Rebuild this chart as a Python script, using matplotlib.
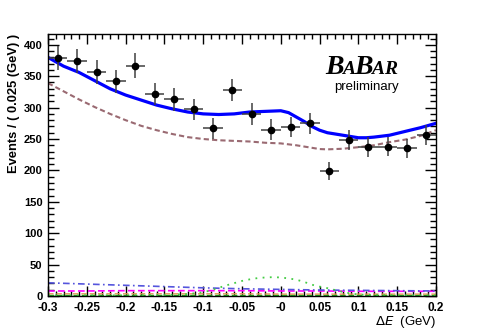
import matplotlib
matplotlib.use("Agg")
import matplotlib.pyplot as plt
from matplotlib.ticker import FixedLocator, FixedFormatter, MultipleLocator

# data points (bin centres, bin width 0.025 GeV)
x_data = [-0.2875, -0.2625, -0.2375, -0.2125, -0.1875, -0.1625, -0.1375, -0.1125,
          -0.0875, -0.0625, -0.0375, -0.0125, 0.0125, 0.0375, 0.0625, 0.0875,
          0.1125, 0.1375, 0.1625, 0.1875]
y_data = [379, 374, 357, 342, 367, 322, 313, 297, 267, 328,
          290, 265, 269, 275, 199, 248, 237, 238, 235, 257]
y_err = [19.5, 19.3, 18.9, 18.5, 19.2, 17.9, 17.7, 17.2, 16.3, 18.1,
         17.0, 16.3, 16.4, 16.6, 14.1, 15.7, 15.4, 15.4, 15.3, 16.0]
x_err = [0.0125] * 20

# total fit
x_tot = [-0.30, -0.28, -0.26, -0.24, -0.22, -0.20, -0.18, -0.16, -0.14, -0.12,
         -0.10, -0.08, -0.06, -0.04, -0.02, 0.00, 0.01, 0.02, 0.03, 0.04,
         0.05, 0.06, 0.08, 0.10, 0.11, 0.12, 0.14, 0.16, 0.18, 0.20]
y_tot = [380, 366, 356, 343, 330, 320, 312, 304, 298, 293,
         290, 289, 290, 293, 294, 295, 292, 285, 278, 270,
         264, 260, 256, 252, 252, 253, 256, 262, 268, 275]

# background (dashed brown)
x_bkg = [-0.30, -0.28, -0.26, -0.24, -0.22, -0.20, -0.18, -0.16, -0.14, -0.12,
         -0.10, -0.08, -0.06, -0.04, -0.02, 0.00, 0.02, 0.04, 0.05, 0.06,
         0.08, 0.10, 0.12, 0.14, 0.16, 0.18, 0.20]
y_bkg = [339, 326, 313, 301, 290, 280, 271, 264, 258, 253,
         250, 248, 247, 246, 244, 243, 240, 236, 234, 233.5,
         234.5, 237, 240, 245, 249, 255, 264]

# small components
x_small = [-0.30, -0.25, -0.20, -0.15, -0.10, -0.05, 0.00, 0.05, 0.10, 0.15, 0.20]
y_dashdot = [21, 19, 17, 15, 13, 11.5, 10.5, 9.5, 9, 8.5, 8]
y_magenta = [8, 8, 8.5, 8.5, 8.5, 8.5, 8, 8, 7.5, 7.5, 7.5]
y_orange = [3.5, 3.5, 3.5, 3.5, 3.5, 3.5, 3, 3, 3, 3, 3]
y_green = [1.5, 1.5, 1.5, 1.5, 1.5, 1.5, 1.5, 1.5, 1.5, 1.5, 1.5]

x_sig = [-0.30, -0.20, -0.15, -0.12, -0.10, -0.09, -0.08, -0.07, -0.06, -0.05,
         -0.04, -0.03, -0.02, -0.01, 0.00, 0.01, 0.02, 0.03, 0.04, 0.05,
         0.06, 0.07, 0.08, 0.09, 0.10, 0.12, 0.20]
y_sig = [1, 1, 1.5, 3, 6, 9, 13, 17, 20.5, 24,
         26.5, 28.5, 29.5, 30, 29.5, 28, 26, 22.5, 18, 15,
         12.5, 9.5, 6.5, 4, 2.5, 1.5, 1]

xtick_pos = [-0.3, -0.25, -0.2, -0.15, -0.1, -0.05, 0.0, 0.05, 0.1, 0.15, 0.2]
xtick_lab = ['-0.3', '-0.25', '-0.2', '-0.15', '-0.1', '-0.05', '-0', '0.05', '0.1', '0.15', '0.2']
ytick_pos = [0, 50, 100, 150, 200, 250, 300, 350, 400]
ytick_lab = ['0', '50', '100', '150', '200', '250', '300', '350', '400']

fig = plt.figure(figsize=(4.86, 3.29), dpi=100)
ax = fig.add_axes([48 / 486, 1 - 296 / 329, 388 / 486, (296 - 33.5) / 329])

# small components first
ax.plot(x_small, y_green, color='#22aa22', lw=1, ls=(0, (4, 2)))
ax.plot(x_small, y_orange, color='#dd9955', lw=1, ls=(0, (4, 2)))
ax.plot(x_small, y_magenta, color='#ff00ff', lw=1.2, ls=(0, (4, 2)))
ax.plot(x_small, y_dashdot, color='#5555dd', lw=1.2, ls=(0, (4, 2, 1, 2)))
ax.plot(x_sig, y_sig, color='#44cc44', lw=1.3, ls=(0, (1, 3)))

ax.plot(x_bkg, y_bkg, color='#9a6a72', lw=1.5, ls=(0, (2.5, 1.5)))
ax.plot(x_tot, y_tot, color='#0000ff', lw=2.3)

ax.errorbar(x_data, y_data, yerr=y_err, xerr=x_err, fmt='o', color='black',
            ecolor='0.25', elinewidth=1.1, markersize=4.5, capsize=0)

ax.set_xlim(-0.3, 0.2)
ax.set_ylim(0, 418)
ax.xaxis.set_major_locator(FixedLocator(xtick_pos))
ax.xaxis.set_major_formatter(FixedFormatter(xtick_lab))
ax.xaxis.set_minor_locator(MultipleLocator(0.01))
ax.yaxis.set_major_locator(FixedLocator(ytick_pos))
ax.yaxis.set_major_formatter(FixedFormatter(ytick_lab))
ax.yaxis.set_minor_locator(MultipleLocator(10))
ax.tick_params(which='both', direction='in', top=True, right=True, width=1)
ax.tick_params(axis='x', which='major', length=7, pad=4, labelsize=8.5)
ax.tick_params(axis='x', which='minor', length=3.5)
ax.tick_params(axis='y', which='major', length=8, pad=4, labelsize=8)
ax.tick_params(axis='y', which='minor', length=4)
for lab in ax.get_xticklabels() + ax.get_yticklabels():
    lab.set_fontweight('bold')
    lab.set_family('Liberation Sans')
for s in ax.spines.values():
    s.set_linewidth(1)

ax.set_ylabel('Events / ( 0.025 (GeV) )', loc='top', fontsize=9.3,
              fontweight='bold', family='Liberation Sans', labelpad=3)
ax.set_xlabel(r'$\Delta E$  (GeV)', loc='right', fontsize=9.5,
              family='Liberation Sans', labelpad=0)

# BaBar logo
logo_font = dict(family='Liberation Serif', fontweight='bold', fontstyle='italic')
letters = [('B', 325, 20), ('A', 342.5, 14), ('B', 354, 20), ('A', 371.5, 14), ('R', 384, 14)]
for ch, px, size in letters:
    fig.text(px / 486, 1 - 74 / 329, ch, fontsize=size, ha='left', va='baseline', **logo_font)
fig.text(366 / 486, 1 - 90 / 329, 'preliminary', fontsize=9.5, ha='center', va='baseline',
         family='Liberation Sans')

fig.savefig('out.png', dpi=100)
